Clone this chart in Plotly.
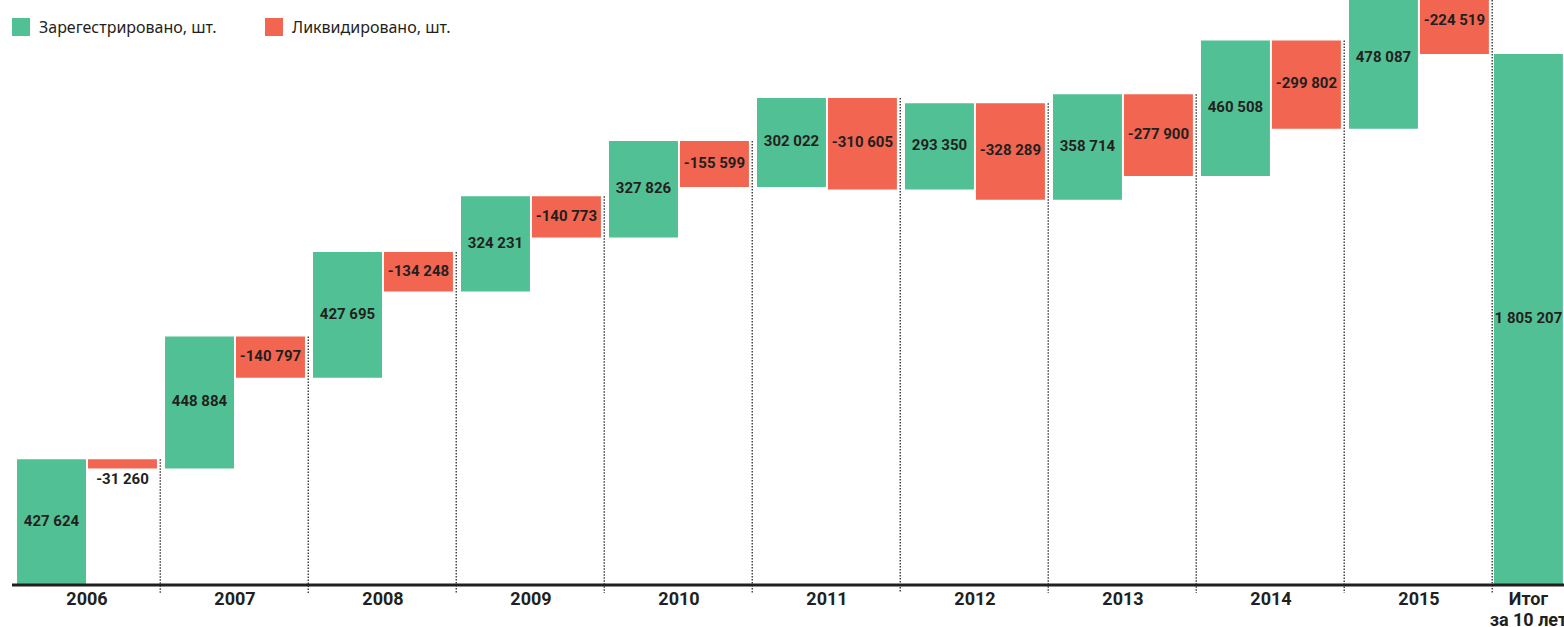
import plotly.graph_objects as go

# ---- data ----
years = ["2006", "2007", "2008", "2009", "2010", "2011", "2012", "2013", "2014", "2015"]
registered = [427624, 448884, 427695, 324231, 327826, 302022, 293350, 358714, 460508, 478087]
liquidated = [-31260, -140797, -134248, -140773, -155599, -310605, -328289, -277900, -299802, -224519]
total_value = 1805207
total_label = ["Итог", "за 10 лет"]
legend_names = ["Зарегестрировано, шт.", "Ликвидировано, шт."]

GREEN = "#52C095"
RED = "#F26651"
INK = "#231F20"

def fmt(v):
    return f"{v:,}".replace(",", " ")

def big(s):
    return f'<span style="font-size:18px">{s}</span>'

# cumulative levels
green_base, red_base, tops, ends = [], [], [], []
level = 0
for r, l in zip(registered, liquidated):
    green_base.append(level)
    top = level + r
    tops.append(top)
    red_base.append(top)
    level = top + l
    ends.append(level)

n = len(years)
green_x = [2 * i for i in range(n)]
red_x = [2 * i + 1 for i in range(n)]
total_x = 2 * n
BW = 0.932
RED_SHIFT = -0.041  # red/total bars sit slightly left of their slot

Y_TOP = 1989000
Y_BOT = -27200
H_PLOT = 593
UNITS_PER_PX = (Y_TOP - Y_BOT) / H_PLOT
OUTSIDE_GAP_PX = 12  # label below a bar too thin to hold it

fig = go.Figure()

label_font = dict(family="Roboto", size=15, color=INK, weight=700)

fig.add_trace(go.Bar(
    x=green_x, y=registered, base=green_base, width=BW, offset=-BW / 2,
    marker=dict(color=GREEN, line=dict(width=0)),
    name=legend_names[0], showlegend=False, hoverinfo="skip", cliponaxis=False,
))

fig.add_trace(go.Bar(
    x=red_x, y=liquidated, base=red_base, width=BW, offset=-BW / 2 + RED_SHIFT,
    marker=dict(color=RED, line=dict(width=0)),
    name=legend_names[1], showlegend=False, hoverinfo="skip", cliponaxis=False,
))

fig.add_trace(go.Bar(
    x=[total_x], y=[total_value], base=[0], width=BW, offset=-BW / 2 + RED_SHIFT,
    marker=dict(color=GREEN, line=dict(width=0)),
    showlegend=False, hoverinfo="skip", cliponaxis=False,
))

# value labels (centres of the bars, computed from the data)
lx, ly, lt = [], [], []
for i in range(n):
    lx.append(green_x[i]); ly.append(green_base[i] + registered[i] / 2)
    lt.append(fmt(registered[i]))
    lx.append(red_x[i] + RED_SHIFT)
    if i == 0:
        ly.append(ends[i] - OUTSIDE_GAP_PX * UNITS_PER_PX)
    else:
        ly.append(red_base[i] + liquidated[i] / 2)
    lt.append(fmt(liquidated[i]))
lx.append(total_x + RED_SHIFT); ly.append(total_value / 2)
lt.append(fmt(total_value))

fig.add_trace(go.Scatter(
    x=lx, y=ly, text=lt, mode="text", textposition="middle center",
    textfont=label_font, showlegend=False, hoverinfo="skip", cliponaxis=False,
))

# dotted separators between years
sx, sy = [], []
for i in range(n):
    xx = 2 * i + 1.47
    sx += [xx, xx, None]
    sy += [tops[i], Y_BOT, None]
fig.add_trace(go.Scatter(
    x=sx, y=sy, mode="lines",
    line=dict(color="#444444", width=1.5, dash="1.5px,1.5px"),
    showlegend=False, hoverinfo="skip",
))

# axis baseline
fig.add_shape(type="line", xref="paper", yref="y", x0=0, x1=1, y0=0, y1=0,
              line=dict(color=INK, width=3), layer="above")

# manual legend
W_PLOT = 1552
def px_x(p):
    return (p - 12) / W_PLOT
def px_y(p):
    return (H_PLOT - p) / H_PLOT

for (x0, tx), col, name in zip([(12, 37), (265, 290)], [GREEN, RED], legend_names):
    fig.add_shape(type="rect", xref="paper", yref="paper",
                  x0=px_x(x0), x1=px_x(x0 + 18), y0=px_y(36), y1=px_y(18),
                  fillcolor=col, line=dict(width=0), layer="above")
    fig.add_annotation(xref="paper", yref="paper", x=px_x(tx), y=px_y(27),
                       xanchor="left", yanchor="middle", showarrow=False,
                       text=name, font=dict(family="Noto Sans", size=16, color=INK))

tick_text = [big(y) for y in years] + ["<br>".join(big(s) for s in total_label)]

fig.update_layout(
    width=1564, height=627,
    margin=dict(l=12, r=0, t=0, b=627 - H_PLOT, autoexpand=False),
    paper_bgcolor="white", plot_bgcolor="white",
    barmode="overlay",
    showlegend=False,
    xaxis=dict(
        range=[-0.534, 20.44],
        tickmode="array",
        tickvals=[2 * i + 0.48 for i in range(n)] + [total_x + RED_SHIFT],
        ticktext=tick_text,
        tickfont=dict(family="Roboto", size=16, color=INK, weight=700),
        ticks="", showgrid=False, zeroline=False, showline=False,
        ticklabeloverflow="allow", ticklabelstandoff=-5, automargin=False,
        fixedrange=True,
    ),
    yaxis=dict(
        range=[Y_BOT, Y_TOP], visible=False, showgrid=False, zeroline=False,
        fixedrange=True,
    ),
)

fig.write_html(
    "out.html",
    config={"displayModeBar": False},
    post_script="document.body.style.margin='0';document.body.style.overflow='hidden';",
)
